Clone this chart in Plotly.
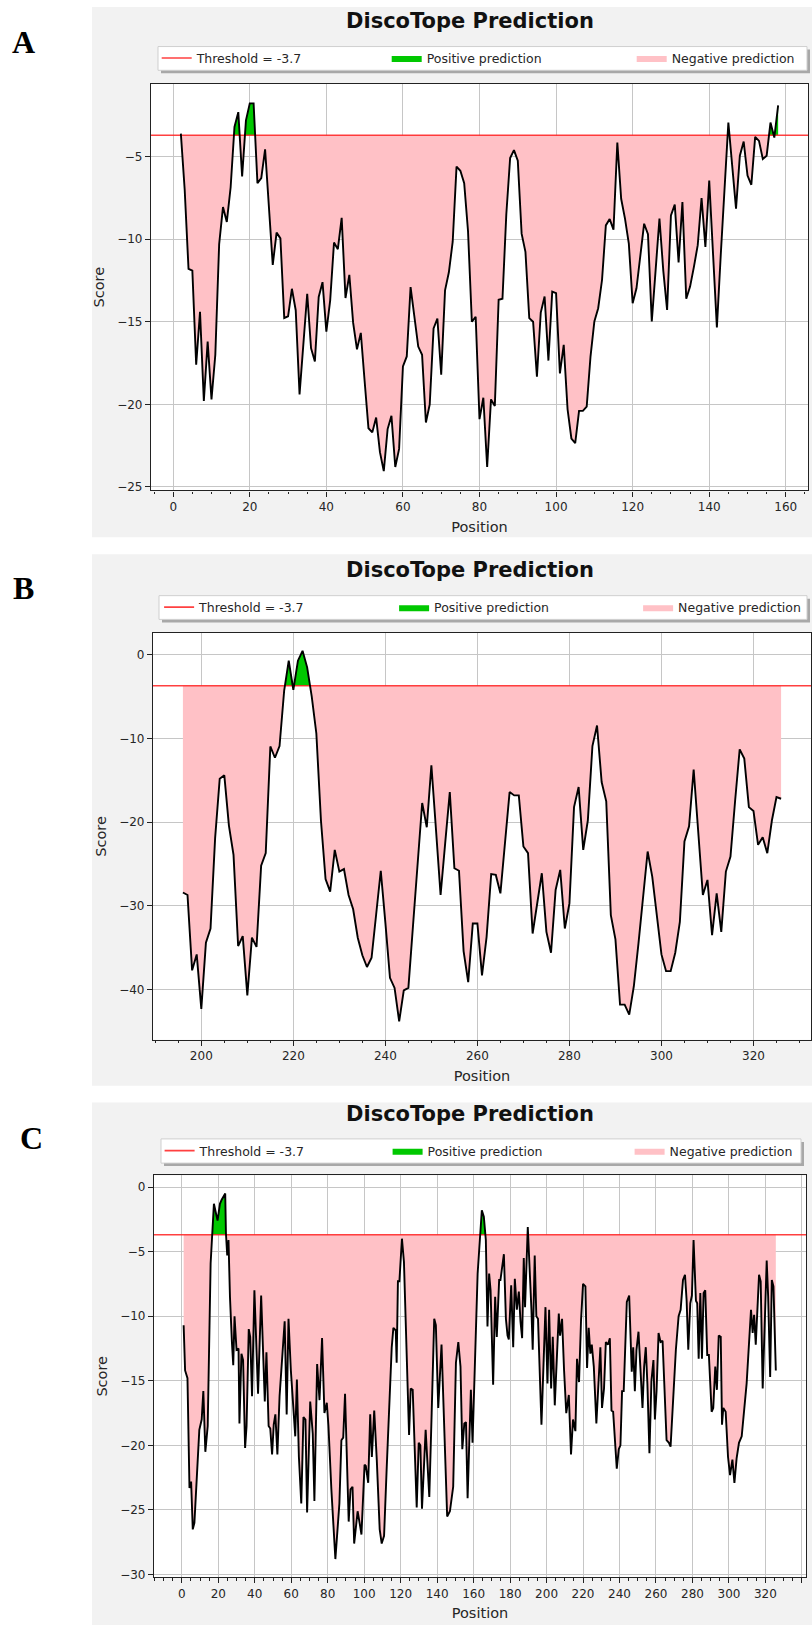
import numpy as np
import plotly.graph_objects as go

# ---------------- data ----------------
THRESHOLD = -3.7
TITLE = "DiscoTope Prediction"
LEGEND_LABELS = ["Threshold = -3.7", "Positive prediction", "Negative prediction"]
PANEL_LETTERS = ["A", "B", "C"]

A_POS = list(range(2, 159))
A_SCORE = [
    -3.6, -7.0, -11.8, -11.9, -17.6, -14.4, -19.8, -16.2, -19.7, -17.0,      # 2-11
    -10.3, -8.05, -8.95, -6.85, -3.2, -2.3, -6.2, -2.8, -1.77, -1.77,        # 12-21
    -6.6, -6.3, -4.55, -8.0, -11.55, -9.6, -9.95, -14.77, -14.67, -13.0,     # 22-31
    -14.3, -19.4, -16.3, -13.3, -16.6, -17.4, -13.5, -12.6, -15.6, -13.7,    # 32-41
    -10.2, -10.6, -8.7, -13.56, -12.16, -15.07, -16.67, -15.67, -18.6, -21.45,  # 42-51
    -21.7, -20.8, -22.9, -24.05, -21.5, -20.7, -23.8, -22.7, -17.7, -17.1,   # 52-61
    -12.9, -14.7, -16.5, -17.0, -21.1, -20.0, -15.4, -14.8, -18.2, -13.1,    # 62-71
    -12.0, -10.15, -5.6, -5.85, -6.6, -9.5, -15.0, -14.7, -20.9, -19.6,      # 72-81
    -23.8, -19.7, -20.1, -13.67, -13.6, -8.5, -5.08, -4.6, -5.24, -9.66,     # 82-91
    -10.76, -14.78, -15.0, -18.33, -14.44, -13.47, -17.35, -13.17, -13.27, -18.13,  # 92-101
    -16.4, -20.3, -22.07, -22.35, -20.4, -20.4, -20.14, -17.09, -14.98, -14.18,    # 102-111
    -12.47, -9.16, -8.78, -9.42, -4.14, -7.55, -8.75, -10.26, -13.88, -12.97,      # 112-121
    -10.86, -9.06, -9.7, -14.98, -11.87, -8.75, -11.9, -14.28, -8.55, -7.9,        # 122-131
    -11.4, -7.75, -13.6, -12.87, -11.67, -10.36, -7.5, -10.46, -6.45, -11.0,       # 132-141
    -15.34, -11.0, -7.0, -2.93, -5.54, -8.15, -4.94, -4.08, -6.14, -6.7,           # 142-151
    -3.8, -4.04, -5.14, -4.94, -2.93, -3.84, -1.89,                                # 152-158
]

B_POS = list(range(196, 327))
B_SCORE = [
    -28.4, -28.7, -37.7, -35.8, -42.3, -34.4, -32.7, -21.9, -14.8, -14.4,    # 196-205
    -20.4, -23.9, -34.8, -33.6, -40.7, -33.8, -34.9, -25.2, -23.7, -10.95,   # 206-215
    -12.3, -10.9, -4.3, -0.7, -4.2, -0.7, 0.48, -1.5, -5.0, -9.4,            # 216-225
    -19.8, -26.8, -28.3, -23.3, -25.9, -25.6, -28.7, -30.4, -33.8, -35.9,    # 226-235
    -37.3, -36.2, -31.0, -25.8, -32.0, -38.6, -39.8, -43.8, -40.1, -39.8,    # 236-245
    -32.4, -25.0, -17.7, -20.6, -13.2, -20.9, -28.7, -22.5, -16.4, -25.5,    # 246-255
    -25.8, -35.4, -39.1, -32.1, -32.1, -38.3, -33.7, -26.2, -26.3, -28.5,    # 256-265
    -22.5, -16.4, -16.8, -16.8, -22.9, -23.7, -33.3, -29.5, -26.1, -33.1,    # 266-275
    -35.6, -28.1, -25.7, -32.7, -29.7, -18.2, -15.8, -23.3, -19.8, -10.9,    # 276-285
    -8.45, -15.2, -17.5, -31.1, -34.0, -41.8, -41.8, -43.0, -39.6, -34.5,    # 286-295
    -29.0, -23.5, -26.5, -31.0, -35.8, -37.8, -37.8, -35.6, -31.9, -22.3,    # 296-305
    -20.5, -13.7, -21.0, -28.7, -26.9, -33.5, -28.5, -33.1, -25.9, -24.1,    # 306-315
    -17.5, -11.3, -12.4, -18.2, -18.65, -22.7, -21.8, -23.7, -19.8, -17.0,   # 316-325
    -17.2,                                                                    # 326
]

C_POS = [
    1.0, 1.8, 3.1, 4.2, 5.1, 6.0, 6.9, 9.6, 10.9, 11.8, 12.9, 14.2, 15.8, 17.6,
    19.6, 20.9, 21.8, 23.8, 24.2, 24.9, 25.6, 26.4, 27.5, 28.2, 28.9, 30.0,
    31.1, 31.6, 32.7, 33.6, 34.7, 35.5, 36.7, 37.5, 38.5, 39.8, 41.8, 43.5,
    45.5, 46.4, 47.6, 48.5, 49.5, 50.4, 51.3, 52.4, 53.6, 55.1, 56.4, 57.5,
    58.5, 59.8, 61.0, 62.2, 63.1, 64.2, 65.5, 66.7, 67.8, 68.7, 70.4, 71.8,
    72.7, 74.2, 75.5, 76.9, 78.2, 79.5, 80.4, 82.0, 84.2, 86.4, 87.5, 88.5,
    89.5, 91.5, 92.5, 93.6, 94.5, 95.5, 96.4, 97.6, 98.5, 100.2, 100.9, 102.2,
    103.3, 104.2, 105.5, 106.9, 108.5, 109.6, 110.9, 112.3, 115.1, 116.0,
    117.3, 117.8, 118.5, 119.3, 120.7, 121.8, 122.9, 124.6, 125.5, 126.6,
    128.8, 129.9, 130.8, 131.7, 133.7, 135.7, 137.0, 138.4, 139.3, 140.6,
    142.4, 143.7, 145.5, 147.0, 148.8, 150.3, 151.6, 152.8, 153.8, 154.9,
    155.8, 156.7, 158.5, 159.4, 160.9, 162.2, 164.5, 165.6, 166.7, 167.6,
    168.5, 169.3, 170.7, 171.8, 172.7, 174.0, 174.7, 176.6, 177.7, 178.6,
    179.3, 180.6, 181.7, 182.6, 183.7, 184.8, 185.7, 186.6, 187.5, 188.2,
    189.7, 190.8, 191.7, 192.4, 193.5, 194.4, 195.3, 197.2, 199.4, 200.5,
    201.4, 202.5, 203.4, 204.5, 205.8, 206.7, 207.4, 208.5, 209.6, 210.8,
    212.2, 213.4, 214.5, 215.8, 216.7, 217.8, 218.9, 220.0, 221.3, 222.2,
    223.1, 224.0, 224.8, 225.9, 227.3, 228.8, 229.5, 230.4, 231.5, 232.5,
    233.7, 234.7, 235.6, 236.5, 238.5, 239.6, 240.5, 241.4, 242.3, 244.0,
    245.3, 246.7, 247.5, 248.4, 249.3, 250.4, 251.5, 252.6, 253.5, 254.4,
    255.3, 256.4, 257.5, 258.6, 259.4, 260.3, 261.4, 262.5, 263.6, 265.8,
    267.1, 268.0, 270.9, 272.4, 273.5, 274.8, 275.9, 276.8, 277.7, 278.8,
    279.7, 280.6, 281.9, 282.6, 283.4, 284.3, 285.2, 286.1, 287.0, 288.1,
    289.0, 290.5, 291.4, 292.5, 293.4, 294.4, 295.5, 296.2, 296.9, 298.2,
    299.5, 300.6, 301.9, 303.0, 304.2, 305.5, 307.0, 309.7, 311.0, 312.1,
    313.0, 313.8, 314.7, 316.5, 317.4, 318.5, 320.7, 321.5, 322.6, 323.5,
    324.4, 325.7,
]
C_SCORE = [
    -10.7, -14.2, -14.8, -23.3, -22.8, -26.5, -26.0, -18.8, -18.0, -15.8, -20.5, -18.5, -5.9, -1.3,
    -2.6, -1.3, -1.0, -0.5, -3.6, -5.3, -4.1, -8.5, -12.1, -13.8, -10.0, -12.6,
    -12.5, -18.3, -12.9, -13.4, -20.2, -18.5, -11.0, -11.6, -16.2, -8.0, -16.0, -8.4,
    -16.6, -12.8, -18.5, -18.7, -20.7, -18.4, -17.6, -20.7, -16.2, -12.6, -10.4, -17.6,
    -10.2, -14.2, -17.1, -19.3, -14.9, -20.9, -24.5, -17.8, -18.0, -25.2, -16.6, -19.1,
    -24.3, -13.7, -16.5, -11.7, -17.5, -16.7, -18.5, -23.4, -28.8, -24.5, -19.6, -19.4,
    -16.0, -25.9, -23.4, -23.2, -27.6, -26.5, -25.1, -26.1, -26.9, -21.5, -21.6, -22.9,
    -17.6, -20.9, -17.3, -21.1, -26.5, -27.6, -27.0, -21.9, -12.4, -10.9,
    -11.1, -13.6, -7.3, -7.3, -4.0, -5.8, -10.6, -19.2, -15.6, -15.7,
    -24.8, -19.8, -20.0, -24.9, -18.8, -24.0, -17.5, -10.2, -10.7, -17.1,
    -12.2, -18.0, -25.5, -25.1, -23.2, -13.6, -12.0, -13.9, -20.3, -18.3,
    -18.2, -24.1, -15.7, -19.8, -11.6, -6.7, -1.8, -2.3, -4.1, -10.8,
    -6.7, -8.0, -15.3, -8.5, -11.6, -7.2, -7.2, -5.2, -10.2, -11.5,
    -11.8, -7.6, -12.4, -7.1, -9.5, -8.1, -10.4, -11.7, -5.5, -9.3,
    -3.1, -6.1, -9.5, -12.6, -5.3, -10.0, -10.2, -18.4, -9.3, -15.2,
    -9.5, -15.6, -11.6, -16.9, -12.9, -9.8, -11.5, -10.2, -14.2, -17.5,
    -16.1, -20.7, -18.0, -18.9, -13.3, -15.1, -10.3, -7.5, -7.7, -14.0,
    -10.9, -12.9, -12.2, -13.9, -18.3, -13.6, -12.4, -17.1, -15.6, -12.0,
    -12.2, -11.7, -17.3, -17.4, -21.8, -20.3, -20.0, -15.8, -15.8, -8.9,
    -8.4, -14.3, -12.4, -15.8, -12.6, -11.2, -13.9, -17.1, -13.9, -12.4,
    -15.3, -20.6, -15.0, -13.4, -18.0, -15.8, -11.3, -12.0, -11.9, -19.6,
    -19.8, -20.1, -12.6, -10.0, -9.5, -7.2, -6.8, -8.8, -12.6, -9.0,
    -8.4, -4.1, -8.8, -9.0, -13.3, -8.2, -13.3, -8.2, -8.0, -13.0,
    -13.0, -17.4, -17.1, -13.9, -15.7, -11.5, -11.6, -18.4, -17.1, -17.4,
    -20.9, -22.3, -21.1, -22.9, -21.0, -19.8, -19.3, -15.2, -12.1, -9.5,
    -11.3, -9.9, -12.2, -6.8, -7.3, -15.6, -5.7, -8.5, -14.7, -7.2,
    -7.7, -14.2,
]
assert len(A_POS) == len(A_SCORE)
assert len(B_POS) == len(B_SCORE)
assert len(C_POS) == len(C_SCORE)

# ---------------- layout / style ----------------
W, H = 812, 1630


def fx(x):
    return x / W


def fy(y):
    return 1 - y / H


PINK = "#ffc1c6"
GREEN = "#00c800"
RED = "rgba(255,30,30,0.85)"
GRID = "#c6c6c6"
AXCOL = "#222222"
TXT = "#262626"
FONT = "DejaVu Sans"

panels = [
    dict(pos=A_POS, score=A_SCORE, xr=[-5.8, 165.8], yr=[-25.22, -0.58], ydt=5,
         plot=(151, 808, 84, 492), bg=(92, 812, 7, 539), title_y=21,
         legbox=(158, 807, 46.7, 70.5), legx=156.7, legw=(185, 200), letter=(23, 42.5)),
    dict(pos=B_POS, score=B_SCORE, xr=[189.5, 332.5], yr=[-46.0, 2.6], ydt=10,
         plot=(153, 811, 635, 1043), bg=(92, 812, 556, 1089), title_y=572,
         legbox=(159, 807, 597.5, 621.3), legx=159.1, legw=(190, 199), letter=(23, 590)),
    dict(pos=C_POS, score=C_SCORE, xr=[-15.25, 342.25], yr=[-30.2, 0.9], ydt=5,
         plot=(154, 806, 1179, 1582), bg=(92, 812, 1106, 1630), title_y=1117,
         legbox=(161, 801, 1142.4, 1166.7), legx=159.6, legw=(183, 197), letter=(31, 1141)),
]


def with_crossings(xs, ys, thr):
    X, Y = [], []
    for i in range(len(xs)):
        if i > 0:
            y0, y1 = ys[i - 1], ys[i]
            if (y0 - thr) * (y1 - thr) < 0:
                t = (thr - y0) / (y1 - y0)
                X.append(xs[i - 1] + t * (xs[i] - xs[i - 1]))
                Y.append(thr)
        X.append(xs[i])
        Y.append(ys[i])
    return np.array(X, float), np.array(Y, float)


fig = go.Figure()
shapes = []
annotations = []
layout_axes = {}

for i, p in enumerate(panels, start=1):
    sfx = "" if i == 1 else str(i)
    xa, ya = "x" + sfx, "y" + sfx
    leg = "legend" + sfx
    l, r, t, b = p["plot"]

    # backgrounds
    bx0, bx1, by0, by1 = p["bg"]
    shapes.append(dict(type="rect", xref="paper", yref="paper", x0=fx(bx0), x1=fx(bx1),
                       y0=fy(by1), y1=fy(by0), fillcolor="#f2f2f2", line=dict(width=0), layer="below"))
    shapes.append(dict(type="rect", xref="paper", yref="paper", x0=fx(l), x1=fx(r),
                       y0=fy(b), y1=fy(t), fillcolor="white", line=dict(width=0), layer="below"))
    # legend frame with shadow
    lx0, lx1, ly0, ly1 = p["legbox"]
    shapes.append(dict(type="rect", xref="paper", yref="paper", x0=fx(lx0 + 3), x1=fx(lx1 + 3),
                       y0=fy(ly1 + 3), y1=fy(ly0 + 3), fillcolor="#a8a8a8", line=dict(width=0), layer="below"))
    shapes.append(dict(type="rect", xref="paper", yref="paper", x0=fx(lx0), x1=fx(lx1),
                       y0=fy(ly1), y1=fy(ly0), fillcolor="white", line=dict(width=1, color="#cfcfcf"),
                       layer="below"))

    X, Y = with_crossings(p["pos"], p["score"], THRESHOLD)
    neg = np.minimum(Y, THRESHOLD)
    posv = np.maximum(Y, THRESHOLD)
    polyx = np.concatenate([X, X[::-1]])

    fig.add_trace(go.Scatter(
        x=polyx, y=np.concatenate([neg, np.full(len(X), THRESHOLD)]),
        mode="lines", fill="toself", fillcolor=PINK, line=dict(width=0, color=PINK),
        name=LEGEND_LABELS[2], legend=leg, legendrank=3, legendwidth=128,
        xaxis=xa, yaxis=ya, hoverinfo="skip"))
    fig.add_trace(go.Scatter(
        x=polyx, y=np.concatenate([posv, np.full(len(X), THRESHOLD)]),
        mode="lines", fill="toself", fillcolor=GREEN, line=dict(width=0, color=GREEN),
        name=LEGEND_LABELS[1], legend=leg, legendrank=2, legendwidth=p["legw"][1],
        xaxis=xa, yaxis=ya, hoverinfo="skip"))
    fig.add_trace(go.Scatter(
        x=p["xr"], y=[THRESHOLD, THRESHOLD], mode="lines",
        line=dict(color=RED, width=1.6),
        name=LEGEND_LABELS[0], legend=leg, legendrank=1, legendwidth=p["legw"][0],
        xaxis=xa, yaxis=ya, hoverinfo="skip"))
    fig.add_trace(go.Scatter(
        x=p["pos"], y=p["score"], mode="lines", line=dict(color="black", width=1.9),
        showlegend=False, xaxis=xa, yaxis=ya))

    common = dict(ticks="outside", ticklen=5, tickwidth=1, tickcolor=AXCOL,
                  showline=True, linecolor=AXCOL, linewidth=1.2, mirror=True,
                  showgrid=True, gridcolor=GRID, gridwidth=1, zeroline=False,
                  tickfont=dict(family=FONT, size=12, color=TXT))
    layout_axes["xaxis" + sfx] = dict(
        common, domain=[fx(l), fx(r)], range=p["xr"], anchor=ya, dtick=20, tick0=0,
        minor=dict(dtick=5, tick0=0, ticks="outside", ticklen=2.5, tickwidth=1,
                   tickcolor=AXCOL, showgrid=False),
        title=dict(text="Position", font=dict(family=FONT, size=14.5, color=TXT), standoff=8))
    layout_axes["yaxis" + sfx] = dict(
        common, domain=[fy(b), fy(t)], range=p["yr"], anchor=xa, dtick=p["ydt"], tick0=0,
        title=dict(text="Score", font=dict(family=FONT, size=14.5, color=TXT), standoff=9))

    layout_axes[leg] = dict(
        orientation="h", x=fx(p["legx"]), xanchor="left", y=fy((ly0 + ly1) / 2), yanchor="middle",
        bgcolor="rgba(0,0,0,0)", borderwidth=0, itemwidth=30, traceorder="normal",
        font=dict(family=FONT, size=12.5, color=TXT))

    annotations.append(dict(text=TITLE, xref="paper", yref="paper", x=fx(470), y=fy(p["title_y"]),
                            xanchor="center", yanchor="middle", showarrow=False,
                            font=dict(family=FONT, size=21, color="#111111", weight="bold")))
    annotations.append(dict(text=PANEL_LETTERS[i - 1], xref="paper", yref="paper",
                            x=fx(p["letter"][0]), y=fy(p["letter"][1]), xanchor="center",
                            yanchor="middle", showarrow=False,
                            font=dict(family="Liberation Serif", size=32, color="black", weight="bold")))

fig.update_layout(
    width=W, height=H, margin=dict(l=0, r=0, t=0, b=0),
    paper_bgcolor="white", plot_bgcolor="rgba(0,0,0,0)",
    shapes=shapes, annotations=annotations, **layout_axes)

fig.write_html("out.html")
